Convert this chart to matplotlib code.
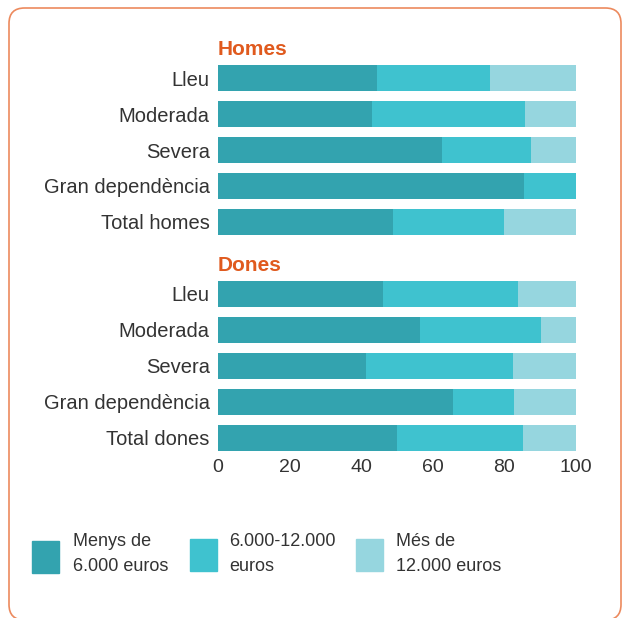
import matplotlib.pyplot as plt
from matplotlib.patches import FancyBboxPatch, Rectangle

plt.rcParams['font.family'] = ['Liberation Sans', 'DejaVu Sans']

# Data (percentages)
categories = ['Lleu', 'Moderada', 'Severa', 'Gran dependència']
homes_low = [44.4, 43.0, 62.6, 85.5, 48.9]
homes_mid = [31.6, 42.8, 24.8, 14.5, 31.0]
homes_high = [24.0, 14.2, 12.6, 0.0, 20.1]
dones_low = [46.1, 56.4, 41.3, 65.6, 50.0]
dones_mid = [37.7, 33.8, 41.1, 17.1, 35.2]
dones_high = [16.2, 9.8, 17.6, 17.3, 14.8]
group_titles = ['Homes', 'Dones']
total_labels = ['Total homes', 'Total dones']
legend_labels = ['Menys de\n6.000 euros', '6.000-12.000\neuros', 'Més de\n12.000 euros']
xticks = [0, 20, 40, 60, 80, 100]

colors = ['#33a3af', '#3fc2cf', '#96d6df']
orange = '#e05a1e'
text_col = '#333333'

fig = plt.figure(figsize=(6.24, 6.18), dpi=100)
W, H = 624, 618

# rounded frame (behind everything)
frame = FancyBboxPatch((9 / W, -2 / H), 612 / W, 612 / H,
                       boxstyle='round,pad=0,rounding_size=0.025',
                       transform=fig.transFigure, facecolor='white',
                       edgecolor='#ec8a5e', linewidth=1.2, clip_on=False,
                       zorder=-5)
fig.patches.append(frame)

ax = fig.add_axes([218 / W, 1 - 452 / H, 358 / W, 412 / H])
ax.set_facecolor('none')

groups = [(homes_low, homes_mid, homes_high), (dones_low, dones_mid, dones_high)]
ypos, ylabels = [], []
for g, (low, mid, high) in enumerate(groups):
    base = g * 6
    ys = [base + i for i in range(5)]
    ypos += ys
    ylabels += categories + [total_labels[g]]
    left = [0] * 5
    for vals, c in zip((low, mid, high), colors):
        ax.barh(ys, vals, left=left, height=0.72, color=c, linewidth=0)
        left = [a + b for a, b in zip(left, vals)]
    ax.text(0, base - 0.8, group_titles[g], color=orange, fontsize=15,
            fontweight='bold', ha='left', va='center')

ax.set_xlim(0, 100)
ax.set_ylim(10.39, -1.056)
ax.set_yticks(ypos)
ax.set_yticklabels(ylabels)
ax.set_xticks(xticks)
ax.tick_params(length=0, labelcolor=text_col)
ax.tick_params(axis='y', pad=6, labelsize=14.5)
ax.tick_params(axis='x', pad=5, labelsize=14)
for s in ax.spines.values():
    s.set_visible(False)

# legend
sq = [(32, 541), (190, 539), (356, 539)]
tx = [73, 229, 396]
for (x0, y0), t, lab, c in zip(sq, tx, legend_labels, colors):
    fig.patches.append(Rectangle((x0 / W, 1 - (y0 + 32) / H), 27 / W, 32 / H,
                                 transform=fig.transFigure, color=c))
    fig.text(t / W, 1 - 533 / H, lab, fontsize=13, color=text_col,
             ha='left', va='top', linespacing=1.65)

fig.savefig('out.png', dpi=100)
